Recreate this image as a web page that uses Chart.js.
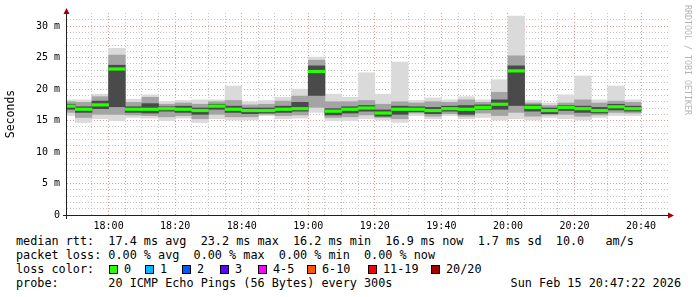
<!DOCTYPE html>
<html><head><meta charset="utf-8">
<script src="https://cdn.jsdelivr.net/npm/chart.js@4"></script>
<style>
html,body{margin:0;padding:0;background:#fff;}
body{width:697px;height:297px;overflow:hidden;position:relative;}
#wrap{position:absolute;left:0;top:0;width:697px;height:230px;}
.t{position:absolute;font-family:"DejaVu Sans Mono",monospace;font-size:11.8px;line-height:14px;white-space:pre;color:#000;}
.box{position:absolute;width:7px;height:7px;border:1px solid #000;}
#wm{position:absolute;left:683px;top:5px;writing-mode:vertical-rl;font-family:"DejaVu Sans Mono",monospace;font-size:8.3px;color:#b4b4b4;white-space:pre;letter-spacing:0px;}
</style></head><body>
<div id="wrap"><canvas id="c" width="697" height="230"></canvas></div>
<div id="wm">RRDTOOL / TOBI OETIKER</div>
<div class="t" style="left:16px;top:234px">median rtt:  17.4 ms avg  23.2 ms max  16.2 ms min  16.9 ms now  1.7 ms sd  10.0   am/s</div>
<div class="t" style="left:16px;top:248px">packet loss: 0.00 % avg  0.00 % max  0.00 % min  0.00 % now</div>
<div class="t" style="left:16px;top:262px">loss color:</div>
<div id="loss"></div>
<div class="t" style="left:16px;top:276px">probe:       20 ICMP Echo Pings (56 Bytes) every 300s</div>
<div class="t" style="right:16px;top:276px">Sun Feb 15 20:47:22 2026</div>
<script>
// ---- data ----
const barStart = ["17:45","17:50","17:55","18:00","18:05","18:10","18:15","18:20","18:25","18:30","18:35","18:40","18:45","18:50","18:55","19:00","19:05","19:10","19:15","19:20","19:25","19:30","19:35","19:40","19:45","19:50","19:55","20:00","20:05","20:10","20:15","20:20","20:25","20:30","20:35"];
const median  = [17.3,16.8,17.5,23.2,16.8,16.8,16.9,16.8,16.6,17.3,16.8,16.6,16.6,16.8,16.9,22.8,16.5,16.8,17.0,16.2,16.8,16.8,16.6,16.9,16.8,17.1,17.6,22.9,17.1,16.6,17.1,16.9,16.6,17.2,16.9];
const pingMax = [18.3,18.3,19.2,26.5,18.4,19.1,18.0,18.2,18.3,18.3,20.5,18.0,18.2,18.7,20.0,25.1,19.2,18.7,22.6,19.2,24.3,18.2,18.6,18.3,18.8,18.3,21.5,31.6,18.2,17.8,19.1,22.1,18.3,20.5,18.3];
const pingHi  = [18.0,17.9,18.8,25.4,17.9,18.7,17.6,17.8,17.6,18.0,18.2,17.5,17.6,18.1,18.9,24.6,18.0,18.0,18.2,17.6,18.0,17.8,18.0,17.9,18.3,17.9,19.5,25.3,17.8,17.4,17.8,18.3,17.8,18.1,17.9];
const pingQ3  = [17.6,17.2,18.1,23.8,17.2,17.7,17.2,17.3,17.0,17.6,17.3,17.0,17.0,17.3,17.9,23.7,16.9,17.2,17.4,16.7,17.3,17.2,17.1,17.3,17.4,17.5,18.3,23.7,17.5,17.0,17.4,17.3,17.1,17.6,17.3];
const pingQ1  = [16.8,16.3,16.9,17.2,16.3,16.2,16.5,16.3,16.0,16.8,16.3,16.1,16.2,16.3,16.5,19.0,15.9,16.2,16.5,15.7,16.0,16.4,16.1,16.5,16.0,16.8,16.8,17.4,16.5,16.1,16.6,16.3,16.2,16.7,16.5];
const pingLo  = [16.3,15.5,16.0,16.0,15.9,15.8,15.6,15.8,15.3,16.0,15.6,15.6,16.0,15.8,15.9,17.1,15.5,15.6,15.9,15.5,15.3,16.2,15.7,16.1,15.7,16.2,15.8,16.3,15.7,15.9,16.0,15.7,15.9,16.3,16.2];
const pingMin = [15.8,14.7,15.3,15.0,15.5,15.4,15.0,15.4,14.7,15.3,15.1,15.1,15.8,15.3,15.4,16.3,15.0,15.0,15.3,15.1,14.7,15.8,15.3,15.8,15.3,15.5,15.1,15.3,15.1,15.5,15.3,15.1,15.5,15.8,15.8];
const xTickLabels = ["18:00","18:20","18:40","19:00","19:20","19:40","20:00","20:20","20:40"];
const yTickLabels = ["0","5 m","10 m","15 m","20 m","25 m","30 m"];
const lossLabels = ["0","1","2","3","4-5","6-10","11-19","20/20"];
const lossColors = ["#26ff00","#00b8ff","#0059ff","#5e00ff","#ff00ff","#ff5500","#ff0000","#a10000"];

// ---- helpers ----
const toMin = s => { const [h,m] = s.split(":").map(Number); return h*60+m-18*60; };
const centers = barStart.map(s => toMin(s) + 2.5);
const rng = (a,b) => centers.map((x,i) => ({x, y:[a[i], b[i]]}));
const medBand = centers.map((x,i) => ({x, y:[median[i]-0.2, median[i]+0.2]}));
const tickTextX = v => { const i = xTickLabels.findIndex(l => toMin(l) === v); return i >= 0 ? xTickLabels[i] : ''; };

// loss color legend
const boxLeft = [109,145,182,220,258,307,368,431];
const lossDiv = document.getElementById('loss');
lossLabels.forEach((l,i) => {
  const b = document.createElement('div'); b.className='box';
  b.style.left = boxLeft[i]+'px'; b.style.top='265px'; b.style.background = lossColors[i];
  lossDiv.appendChild(b);
  const t = document.createElement('div'); t.className='t';
  t.style.left = (boxLeft[i]+15)+'px'; t.style.top='262px'; t.textContent = l;
  lossDiv.appendChild(t);
});

const axisArrows = {
  id:'axisArrows',
  afterDatasetsDraw(chart){
    const {ctx, chartArea:a} = chart;
    ctx.save();
    ctx.strokeStyle='#202020'; ctx.lineWidth=1;
    ctx.beginPath();
    ctx.moveTo(a.left-4, a.bottom+0.5); ctx.lineTo(a.right+1, a.bottom+0.5);
    ctx.moveTo(a.left-0.5, a.bottom+4); ctx.lineTo(a.left-0.5, a.top-2);
    ctx.stroke();
    ctx.fillStyle='#a00000';
    ctx.beginPath(); ctx.moveTo(a.left-0.5, a.top-5); ctx.lineTo(a.left-3.5, a.top+1); ctx.lineTo(a.left+2.5, a.top+1); ctx.closePath(); ctx.fill();
    ctx.beginPath(); ctx.moveTo(a.right+6, a.bottom+0.5); ctx.lineTo(a.right, a.bottom-2.5); ctx.lineTo(a.right, a.bottom+3.5); ctx.closePath(); ctx.fill();
    ctx.restore();
  }
};

const mono = 'DejaVu Sans Mono';
const minorC = '#c4c4c4', majorC = '#e29a9a';
const ds = (label, data, color, order) => ({label, data, backgroundColor: color, borderWidth:0, order, grouped:false, barPercentage:1, categoryPercentage:1, clip:0});

new Chart(document.getElementById('c'), {
  type:'bar',
  data:{ datasets:[
    ds('median', medBand, '#26ff00', 0),
    ds('q', rng(pingQ1, pingQ3), '#4a4a4a', 1),
    ds('hi', rng(pingLo, pingHi), '#a4a4a4', 2),
    ds('max', rng(pingMin, pingMax), '#dadada', 3)
  ]},
  options:{
    responsive:false, animation:false, devicePixelRatio:1,
    layout:{padding:{top:12, right:29, bottom:0, left:0}},
    plugins:{legend:{display:false}, tooltip:{enabled:false}},
    scales:{
      x:{ type:'linear', min:-12.5, max:168.1, offset:false,
        afterBuildTicks: s => { s.ticks = s.ticks.filter(t => Math.abs(t.value - Math.round(t.value)) < 1e-6 && Math.round(t.value) % 5 === 0); },
        afterFit: s => { s.height = 15; },
        ticks:{ stepSize:5, autoSkip:false, maxRotation:0, padding:5, color:'#000', font:{family:mono, size:10}, callback: v => tickTextX(v) },
        grid:{ offset:false, drawTicks:false, lineWidth:1, color: c => (c.tick && c.tick.value % 20 === 0) ? majorC : minorC },
        border:{ display:false, dash:[1,2] }
      },
      y:{ type:'linear', min:0, max:32.1,
        afterBuildTicks: s => { s.ticks = s.ticks.filter(t => Math.abs(t.value - Math.round(t.value)) < 1e-6); },
        afterFit: s => { s.width = 67; },
        ticks:{ stepSize:1, autoSkip:false, padding:7, color:'#000', font:{family:mono, size:10}, callback: v => (v % 5 === 0) ? yTickLabels[v/5] : '' },
        grid:{ drawTicks:false, lineWidth:1, color: c => (c.tick && c.tick.value % 5 === 0) ? majorC : minorC },
        border:{ display:false, dash:[1,2] },
        title:{ display:true, text:'Seconds', color:'#000', font:{family:mono, size:11.5}, padding:{top:4, bottom:0} }
      }
    }
  },
  plugins:[axisArrows]
});
</script>
</body></html>
